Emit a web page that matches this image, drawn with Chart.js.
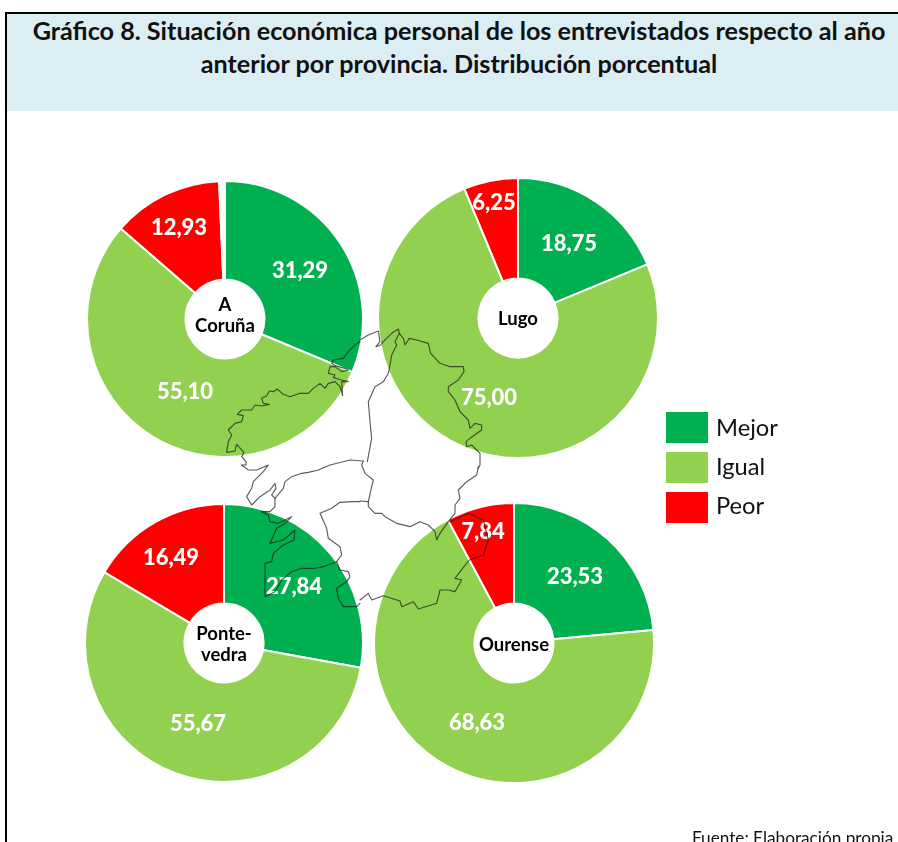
<!DOCTYPE html>
<html lang="es">
<head>
<meta charset="utf-8">
<script src="https://cdn.jsdelivr.net/npm/chart.js@4"></script>
<style>
html,body{margin:0;padding:0;width:898px;height:842px;overflow:hidden;background:#fff;font-family:Lato,"Open Sans",sans-serif}
#panel{position:absolute;left:5px;top:12px;width:920px;height:900px;border:2px solid #000;box-sizing:border-box}
#head{position:absolute;left:7px;top:14px;width:904px;height:97px;background:#DAEEF3}
#title{position:absolute;left:7px;top:14px;width:904px;text-align:center;font-weight:700;font-size:25.2px;line-height:33px;color:#111;margin:0}
.pie{position:absolute}
#map{position:absolute;left:0;top:0;pointer-events:none}
.lg{position:absolute;width:42px;height:31px}
.lt{position:absolute;left:716px;font-size:23.7px;line-height:31px;color:#111}
#src{position:absolute;left:692px;top:828px;font-size:17.2px;line-height:20px;color:#111;white-space:nowrap}
</style>
</head>
<body>
<div id="panel"></div>
<div id="head"></div>
<h1 id="title">Gráfico 8. Situación económica personal de los entrevistados respecto al año<br>anterior por provincia. Distribución porcentual</h1>
<div id="charts"></div>
<svg id="map" width="898" height="842" viewBox="0 0 898 842">
<g fill="none" stroke="#1c1c1c" stroke-opacity="0.72" stroke-width="3.4" stroke-linejoin="round" stroke-linecap="round">
<g transform="translate(220 325) scale(0.33333)">
<path d="M420 50 L405 60 L385 80 L370 100 L340 105 L335 115 L345 122 L375 130 L385 135 L365 140 L345 125 L330 125 L325 145 L345 150 L340 158 L365 165 L385 170 L365 170 L368 212 L360 185 L345 170 L325 175 L315 190 L300 175 L280 190 L265 205 L240 205 L210 215 L190 208 L172 192 L160 200 L148 198 L140 212 L125 220 L130 235 L148 238 L125 243 L105 240 L95 255 L65 255 L52 268 L70 272 L65 290 L45 295 L25 315 L35 330 L25 350 L20 382 L45 378 L50 358 L65 375 L72 382 L65 395 L78 410 L78 420 L65 420"/>
</g>
<g transform="translate(360 325) scale(0.33333)">
<path d="M0 45 L25 30 L55 18 L60 50 L48 65 L62 60 L70 50 L95 25 L115 12 L118 25 L105 50 L110 60 L95 90 L90 120 L85 145 L70 170 L45 185 L25 230 L30 290 L35 340 L22 410"/>
<path d="M118 25 L130 40 L135 60 L148 40 L170 45 L205 55 L212 85 L240 115 L270 125 L310 125 L312 140 L295 165 L265 185 L265 200 L285 225 L300 260 L325 285 L330 310 L345 295 L365 300 L365 315 L330 340 L318 350 L320 365 L335 360 L360 385 L360 420 L355 430"/>
</g>
<g transform="translate(220 465) scale(0.33333)">
<path d="M429 -12 L390 -15 L330 0 L295 15 L265 22 L245 25 L215 35 L195 50 L190 70 L165 100"/>
<path d="M65 0 L85 15 L110 15 L145 0 L130 20 L100 50 L95 70 L80 95 L95 120 L120 95 L150 75 L165 55 L168 70 L155 90 L165 100 L165 125 L150 140 L125 140 L145 150 L150 170 L175 175 L215 155 L195 175 L170 190 L150 235 L190 225 L225 195 L222 225 L190 240 L160 265 L155 290 L135 295 L135 395 L165 380 L185 345 L215 320 L245 310 L280 310 L310 305 L350 290 L360 315 L385 320 L390 335 L380 350 L350 370 L355 400 L370 425 L410 425 L420 415"/>
<path d="M420 110 L395 110 L360 112 L335 130 L300 145 L320 190 L325 220 L360 245 L365 270 L350 290"/>
</g>
<g transform="translate(360 465) scale(0.33333)">
<path d="M10 -12 L5 0 L15 25 L40 45 L35 65 L25 110 L0 108"/>
<path d="M25 110 L25 125 L45 145 L65 145 L75 155 L110 175 L150 185 L180 170 L205 180 L225 200 L230 225 L240 205 L265 170 L285 145 L285 120 L300 100 L295 75 L320 50 L350 30 L355 5"/>
<path d="M0 405 L25 385 L35 405 L70 392 L120 408 L125 425 L160 410 L175 432 L230 415 L240 375 L265 375 L285 380 L305 345 L285 340 L300 320 L328 285 L370 270 L385 225 L370 165 L325 145 L270 170"/>
</g>
</g>
</svg>
<div id="legend"></div>
<div id="src">Fuente: Elaboración propia</div>
<script>
const categories = ["Mejor", "Igual", "Peor"];
const provinces = [["A", "Coruña"], ["Lugo"], ["Ponte-", "vedra"], ["Ourense"]];
// A Coruña's published values add up to 99,32: the remainder is the unlabelled white gap in its ring
const coruna = [31.29, 55.10, 12.93, 0.68];
const lugo = [18.75, 75.00, 6.25];
const pontevedra = [27.84, 55.67, 16.49];
const ourense = [23.53, 68.63, 7.84];
const seriesValues = [coruna, lugo, pontevedra, ourense];
const colours = ["#00B050", "#92D050", "#FF0000", "#FFFFFF"];

// layout only: centre x, centre y, radius, label offsets from the centre, centre-text shift
const layout = [
  {x: 225, y: 319, r: 138, off: [[75, -49], [-40, 72], [-46, -92]], cy: -4},
  {x: 518, y: 318, r: 140, off: [[51, -75], [-29, 79], [-24, -116]], cy: 1},
  {x: 224, y: 643, r: 139, off: [[70, -57], [-26, 80], [-53, -86]], cy: 1},
  {x: 514, y: 643, r: 140, off: [[61, -67], [-37, 79], [-31, -112]], cy: 2}
];
const fmt = v => v.toFixed(2).replace(".", ",");

const labelPlugin = {
  id: "labels",
  afterDatasetsDraw(chart, args, opts) {
    const ctx = chart.ctx;
    const arcs = chart.getDatasetMeta(0).data;
    const data = chart.data.datasets[0].data;
    ctx.save();
    ctx.textAlign = "center";
    ctx.textBaseline = "middle";
    ctx.font = "900 22px Lato";
    ctx.fillStyle = "#fff";
    categories.forEach((c, i) => {
      const a = arcs[i];
      ctx.fillText(fmt(data[i]), a.x + opts.off[i][0], a.y + opts.off[i][1] + 1);
    });
    ctx.font = "700 18.5px Lato";
    ctx.fillStyle = "#000";
    const lines = opts.centre;
    lines.forEach((t, i) => ctx.fillText(t, arcs[0].x, arcs[0].y + opts.cy + (i - (lines.length - 1) / 2) * 20.5 + 0.5));
    ctx.restore();
  }
};

const host = document.getElementById("charts");
seriesValues.forEach((vals, k) => {
  const L = layout[k], size = 2 * L.r + 2;
  const box = document.createElement("div");
  box.className = "pie";
  box.style.cssText = `left:${L.x - L.r - 1}px;top:${L.y - L.r - 1}px;width:${size}px;height:${size}px`;
  const cv = document.createElement("canvas");
  box.appendChild(cv);
  host.appendChild(box);
  new Chart(cv, {
    type: "doughnut",
    data: {labels: categories, datasets: [{data: vals, backgroundColor: colours, borderColor: "#fff", borderWidth: 2}]},
    options: {
      responsive: true, maintainAspectRatio: false, animation: false, cutout: 39.5,
      layout: {padding: 0},
      plugins: {legend: {display: false}, tooltip: {enabled: false}, labels: {off: L.off, cy: L.cy, centre: provinces[k]}}
    },
    plugins: [labelPlugin]
  });
});

const legendTop = [412, 452, 492];
const legendTextTop = [412, 451, 490];
const lg = document.getElementById("legend");
categories.forEach((c, i) => {
  const s = document.createElement("div");
  s.className = "lg";
  s.style.cssText = `left:666px;top:${legendTop[i]}px;background:${colours[i]}`;
  const t = document.createElement("div");
  t.className = "lt";
  t.style.top = legendTextTop[i] + "px";
  t.textContent = c;
  lg.append(s, t);
});
</script>
</body>
</html>
